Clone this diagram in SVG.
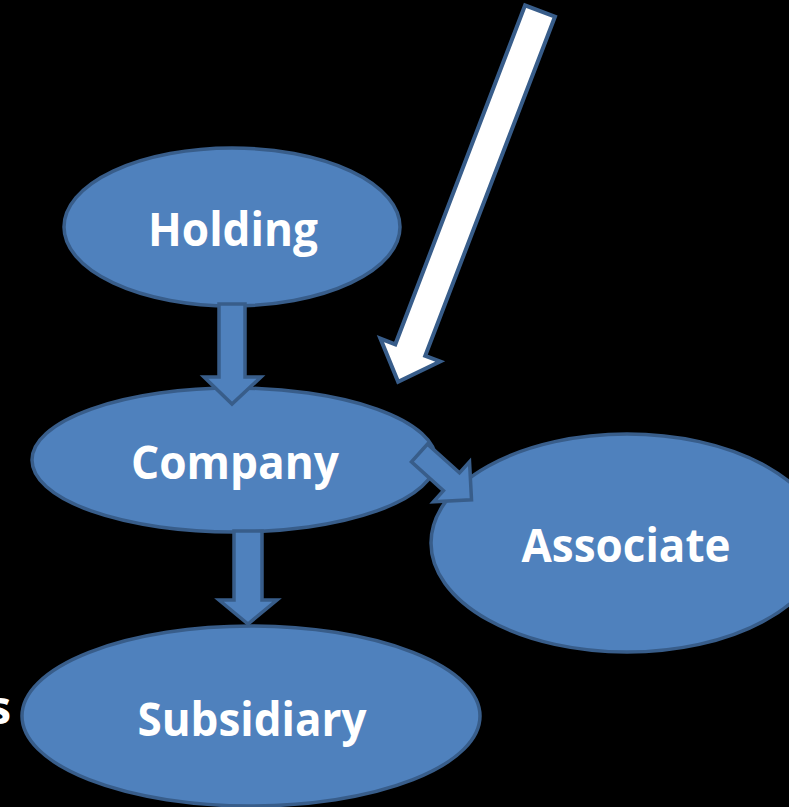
<svg xmlns="http://www.w3.org/2000/svg" width="789" height="807" viewBox="0 0 789 807">
<style>
.node{fill:#4f81bd;stroke:#385d8a;stroke-width:3.5}
.lbl{font-family:"Open Sans","Liberation Sans",sans-serif;font-weight:bold;font-size:46px;fill:#ffffff;text-anchor:middle}
.arr{fill:#4f81bd;stroke:#385d8a;stroke-width:3.5;stroke-linejoin:miter}
.warr{fill:#ffffff;stroke:#385d8a;stroke-width:4;stroke-linejoin:miter}
</style>
<rect x="0" y="0" width="789" height="807" fill="#000000"/>
<text x="11" y="724" class="lbl" style="text-anchor:end">s</text>
<g id="associate">
<ellipse class="node" cx="627" cy="543" rx="196" ry="109"/>
<text x="626" y="562" class="lbl" textLength="209" lengthAdjust="spacingAndGlyphs">Associate</text>
</g>
<g id="subsidiary">
<ellipse class="node" cx="251" cy="716" rx="229" ry="90"/>
<text x="252" y="736" class="lbl" textLength="229" lengthAdjust="spacingAndGlyphs">Subsidiary</text>
</g>
<g id="company">
<ellipse class="node" cx="234" cy="460" rx="202" ry="72"/>
<text x="235" y="479" class="lbl" textLength="208" lengthAdjust="spacingAndGlyphs">Company</text>
</g>
<g id="holding">
<ellipse class="node" cx="232" cy="227" rx="168" ry="79"/>
<text x="233" y="246" class="lbl" textLength="170" lengthAdjust="spacingAndGlyphs">Holding</text>
</g>
<g id="connectors">
<polygon class="arr" points="219,304 245,304 245,377 261,377 232,404 204,377 219,377"/>
<polygon class="arr" points="234,531 262,531 262,600 277,600 248,624 219,600 234,600"/>
<polygon class="arr" transform="translate(419.5,453) rotate(42)" points="0,-12 43,-12 43,-27 70,0 43,27 43,12 0,12"/>
<polygon class="warr" transform="translate(540,11) rotate(110.94)" points="0,-16 363,-16 363,-32 397,0 363,32 363,16 0,16"/>
</g>
</svg>
